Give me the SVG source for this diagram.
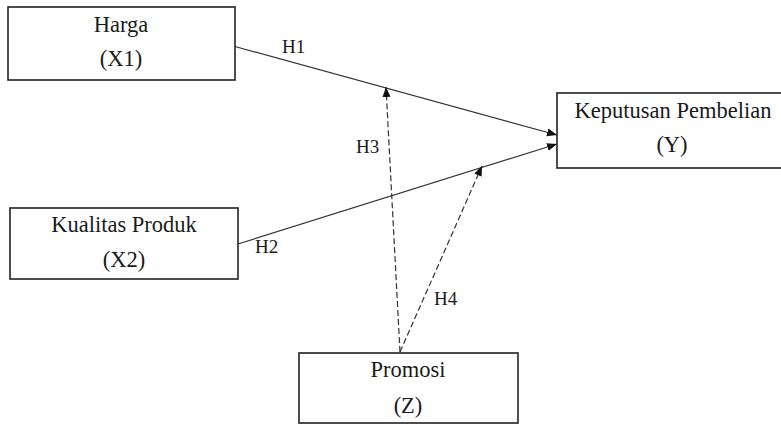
<svg xmlns="http://www.w3.org/2000/svg" width="781" height="425" viewBox="0 0 781 425">
<style>
.box{fill:#fff;stroke:#222;stroke-width:1.6}
.t{font-family:"Liberation Serif","Times New Roman",serif;font-size:22.5px;fill:#1a1a1a;text-anchor:middle}
.lbl{font-family:"Liberation Serif","Times New Roman",serif;font-size:19px;fill:#1a1a1a}
.solid{stroke:#333;stroke-width:1.2;fill:none}
.dash{stroke:#333;stroke-width:1.2;fill:none;stroke-dasharray:6,3}
</style>
<defs>
<marker id="ah" markerUnits="userSpaceOnUse" markerWidth="11" markerHeight="9" refX="10" refY="4" orient="auto">
<path d="M0,0 L10,4 L0,8 z" fill="#111"/>
</marker>
</defs>
<rect width="781" height="425" fill="#fff"/>
<g id="connectors">
<line class="solid" x1="235" y1="46.5" x2="557" y2="135" marker-end="url(#ah)"/>
<line class="solid" x1="238" y1="244" x2="557" y2="144" marker-end="url(#ah)"/>
<line class="dash" x1="400" y1="352" x2="386" y2="87" marker-end="url(#ah)"/>
<line class="dash" x1="400" y1="352" x2="482" y2="166" marker-end="url(#ah)"/>
<text class="lbl" x="282" y="53">H1</text>
<text class="lbl" x="255" y="253">H2</text>
<text class="lbl" x="356" y="153">H3</text>
<text class="lbl" x="434" y="305">H4</text>
</g>
<g id="harga">
<rect class="box" x="8" y="7" width="227" height="73"/>
<text class="t" x="121" y="32">Harga</text>
<text class="t" x="121" y="66">(X1)</text>
</g>
<g id="kualitas">
<rect class="box" x="10" y="208" width="228" height="71"/>
<text class="t" x="124" y="232">Kualitas Produk</text>
<text class="t" x="124" y="267">(X2)</text>
</g>
<g id="keputusan">
<rect class="box" x="557" y="93" width="240" height="75"/>
<text class="t" x="673" y="118">Keputusan Pembelian</text>
<text class="t" x="672" y="152">(Y)</text>
</g>
<g id="promosi">
<rect class="box" x="299" y="353" width="219" height="70"/>
<text class="t" x="408" y="377">Promosi</text>
<text class="t" x="408" y="413">(Z)</text>
</g>
</svg>
